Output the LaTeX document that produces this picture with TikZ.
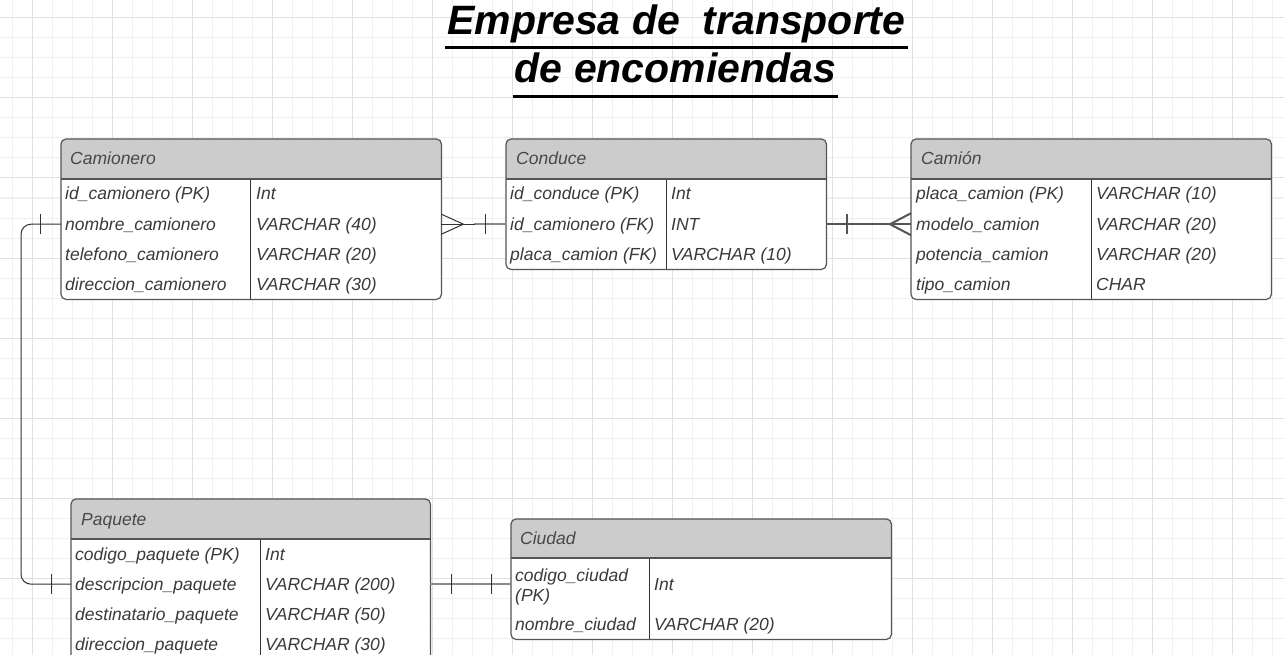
\documentclass[tikz,border=0pt]{standalone}
\usepackage{fontspec}
\setmainfont{Liberation Sans}
\definecolor{gridminor}{HTML}{F0F0F0}
\definecolor{gridmajor}{HTML}{E0E0E0}
\definecolor{hdrc}{HTML}{CCCCCC}
\definecolor{bordc}{HTML}{555555}
\definecolor{txtc}{HTML}{3A3A3A}
\definecolor{hdrtxt}{HTML}{484848}
\definecolor{linkdark}{HTML}{333333}
\definecolor{linkmid}{HTML}{555555}
\definecolor{linkgray}{HTML}{8A8A8A}
\tikzset{
  tblfill/.style={fill=white, rounded corners=5pt, inner sep=0pt, anchor=north west},
  tblborder/.style={draw=bordc, line width=1.2pt, rounded corners=5pt},
  hdrline/.style={draw=bordc, line width=1.2pt},
  divline/.style={draw=linkdark, line width=0.9pt},
  rowbox/.style={inner sep=0pt, anchor=north west, minimum height=30pt},
  cell/.style={inner sep=0pt, anchor=base west, text=txtc, font=\fontsize{17.5}{20}\selectfont\itshape},
  hdr/.style={inner sep=0pt, anchor=base west, text=hdrtxt, font=\fontsize{17.5}{20}\selectfont\itshape},
  ttl/.style={inner sep=0pt, anchor=base, text=black, font=\fontsize{41}{48}\selectfont\bfseries\itshape},
  lnkthin/.style={draw=linkdark, line width=1pt},
  lnkgray/.style={draw=linkgray, line width=2pt},
  lnkmid/.style={draw=linkmid, line width=2pt},
}
\begin{document}
\begin{tikzpicture}[x=1pt,y=-1pt]
\useasboundingbox (0,0) rectangle (1284,655);
\clip (0,0) rectangle (1284,655);
\fill[white] (0,0) rectangle (1284,655);
% grid
\foreach \x in {12,32,...,1284} \draw[gridminor, line width=1pt] (\x,0) -- (\x,655);
\foreach \y in {18,38,...,655} \draw[gridminor, line width=1pt] (0,\y) -- (1284,\y);
\foreach \x in {32,112,...,1284} \draw[gridmajor, line width=1pt] (\x,0) -- (\x,655);
\foreach \y in {18,98,...,655} \draw[gridmajor, line width=1pt] (0,\y) -- (1284,\y);

% title
\node[ttl] (title1) at (676.5,35) {Empresa de\ \ transporte};
\node[ttl] (title2) at (675.5,83) {de encomiendas};
\draw[line width=3pt] ([xshift=-2pt,yshift=-13pt]title1.base west) -- ([xshift=2pt,yshift=-13pt]title1.base east);
\draw[line width=3pt] ([xshift=-2pt,yshift=-14pt]title2.base west) -- ([xshift=2pt,yshift=-14pt]title2.base east);

% ---------- Camionero ----------
\node[tblfill, minimum width=380pt, minimum height=160pt] (camionero) at (61,139) {};
\fill[hdrc] (61,179) {[rounded corners=5pt] -- (61,139) -- (441,139)} -- (441,179) -- cycle;
\draw[divline] (250,179) -- (250,299);
\draw[hdrline] (61,179) -- (441,179);
\draw[tblborder] (camionero.north west) rectangle (camionero.south east);
\node[hdr] (camionerot) at (70,165) {Camionero};
\node[rowbox, minimum width=380pt] (cam1) at (61,179) {};
\node[rowbox, minimum width=380pt] (cam2) at (61,209) {};
\node[rowbox, minimum width=380pt] (cam3) at (61,239) {};
\node[rowbox, minimum width=380pt] (cam4) at (61,269) {};
\node[cell] (cam1a) at (65,200) {id\_camionero (PK)};
\node[cell] (cam1b) at (256,200) {Int};
\node[cell] (cam2a) at (65,230) {nombre\_camionero};
\node[cell] (cam2b) at (256,230) {VARCHAR (40)};
\node[cell] (cam3a) at (65,260) {telefono\_camionero};
\node[cell] (cam3b) at (256,260) {VARCHAR (20)};
\node[cell] (cam4a) at (65,290) {direccion\_camionero};
\node[cell] (cam4b) at (256,290) {VARCHAR (30)};

% ---------- Conduce ----------
\node[tblfill, minimum width=320pt, minimum height=130pt] (conduce) at (506,139) {};
\fill[hdrc] (506,179) {[rounded corners=5pt] -- (506,139) -- (826,139)} -- (826,179) -- cycle;
\draw[divline] (666,179) -- (666,269);
\draw[hdrline] (506,179) -- (826,179);
\draw[tblborder] (conduce.north west) rectangle (conduce.south east);
\node[hdr] (conducet) at (516,165) {Conduce};
\node[rowbox, minimum width=320pt] (con1) at (506,179) {};
\node[rowbox, minimum width=320pt] (con2) at (506,209) {};
\node[rowbox, minimum width=320pt] (con3) at (506,239) {};
\node[cell] (con1a) at (510,200) {id\_conduce (PK)};
\node[cell] (con1b) at (671,200) {Int};
\node[cell] (con2a) at (510,230) {id\_camionero (FK)};
\node[cell] (con2b) at (671,230) {INT};
\node[cell] (con3a) at (510,260) {placa\_camion (FK)};
\node[cell] (con3b) at (671,260) {VARCHAR (10)};

% ---------- Camion ----------
\node[tblfill, minimum width=360pt, minimum height=160pt] (camion) at (911,139) {};
\fill[hdrc] (911,179) {[rounded corners=5pt] -- (911,139) -- (1271,139)} -- (1271,179) -- cycle;
\draw[divline] (1091,179) -- (1091,299);
\draw[hdrline] (911,179) -- (1271,179);
\draw[tblborder] (camion.north west) rectangle (camion.south east);
\node[hdr] (camiont) at (921,165) {Camión};
\node[rowbox, minimum width=360pt] (cmn1) at (911,179) {};
\node[rowbox, minimum width=360pt] (cmn2) at (911,209) {};
\node[rowbox, minimum width=360pt] (cmn3) at (911,239) {};
\node[rowbox, minimum width=360pt] (cmn4) at (911,269) {};
\node[cell] (cmn1a) at (916,200) {placa\_camion (PK)};
\node[cell] (cmn1b) at (1096,200) {VARCHAR (10)};
\node[cell] (cmn2a) at (916,230) {modelo\_camion};
\node[cell] (cmn2b) at (1096,230) {VARCHAR (20)};
\node[cell] (cmn3a) at (916,260) {potencia\_camion};
\node[cell] (cmn3b) at (1096,260) {VARCHAR (20)};
\node[cell] (cmn4a) at (916,290) {tipo\_camion};
\node[cell] (cmn4b) at (1096,290) {CHAR};

% ---------- Paquete ----------
\node[tblfill, minimum width=359pt, minimum height=162pt] (paquete) at (71,499) {};
\fill[hdrc] (71,539) {[rounded corners=5pt] -- (71,499) -- (430,499)} -- (430,539) -- cycle;
\draw[divline] (260,539) -- (260,661);
\draw[hdrline] (71,539) -- (430,539);
\draw[tblborder] (paquete.north west) rectangle (paquete.south east);
\node[hdr] (paquetet) at (81,525) {Paquete};
\node[rowbox, minimum width=359pt] (paq1) at (71,539) {};
\node[rowbox, minimum width=359pt] (paq2) at (71,569) {};
\node[rowbox, minimum width=359pt] (paq3) at (71,599) {};
\node[rowbox, minimum width=359pt] (paq4) at (71,629) {};
\node[cell] (paq1a) at (75,560) {codigo\_paquete (PK)};
\node[cell] (paq1b) at (265,560) {Int};
\node[cell] (paq2a) at (75,590) {descripcion\_paquete};
\node[cell] (paq2b) at (265,590) {VARCHAR (200)};
\node[cell] (paq3a) at (75,620) {destinatario\_paquete};
\node[cell] (paq3b) at (265,620) {VARCHAR (50)};
\node[cell] (paq4a) at (75,650) {direccion\_paquete};
\node[cell] (paq4b) at (265,650) {VARCHAR (30)};

% ---------- Ciudad ----------
\node[tblfill, minimum width=380pt, minimum height=120pt] (ciudad) at (511,519) {};
\fill[hdrc] (511,558) {[rounded corners=5pt] -- (511,519) -- (891,519)} -- (891,558) -- cycle;
\draw[divline] (649,558) -- (649,639);
\draw[hdrline] (511,558) -- (891,558);
\draw[tblborder] (ciudad.north west) rectangle (ciudad.south east);
\node[hdr] (ciudadt) at (520,544) {Ciudad};
\node[rowbox, minimum width=380pt, minimum height=51pt] (ciu1) at (511,558) {};
\node[rowbox, minimum width=380pt] (ciu2) at (511,609) {};
\node[cell] (ciu1a) at (515,581) {codigo\_ciudad};
\node[cell] (ciu1c) at (515,601) {(PK)};
\node[cell] (ciu1b) at (654,590) {Int};
\node[cell] (ciu2a) at (515,630) {nombre\_ciudad};
\node[cell] (ciu2b) at (654,630) {VARCHAR (20)};

% ---------- connectors ----------
% Camionero -- Conduce
\draw[lnkgray] ([xshift=33pt]cam2.east) -- (con2.west);
\draw[lnkthin] (cam2.east) -- ([xshift=34pt]cam2.east);
\draw[lnkthin] ([yshift=10pt]cam2.east) -- ([xshift=22pt]cam2.east) -- ([yshift=-10pt]cam2.east);
\draw[lnkthin] ([xshift=-21pt,yshift=10pt]con2.west) -- ([xshift=-21pt,yshift=-10pt]con2.west);
% Conduce -- Camion
\draw[lnkmid] (con2.east) -- (cmn2.west);
\draw[lnkmid] ([xshift=21pt,yshift=10pt]con2.east) -- ([xshift=21pt,yshift=-10pt]con2.east);
\draw[lnkmid] ([yshift=11pt]cmn2.west) -- ([xshift=-21pt]cmn2.west) -- ([yshift=-11pt]cmn2.west);
% Camionero -- Paquete
\draw[lnkthin, rounded corners=10pt] (cam2.west) -- ++(-40,0) |- (paq2.west);
\draw[lnkthin] ([xshift=-21pt,yshift=10pt]cam2.west) -- ([xshift=-21pt,yshift=-10pt]cam2.west);
\draw[lnkthin] ([xshift=-20pt,yshift=10pt]paq2.west) -- ([xshift=-20pt,yshift=-10pt]paq2.west);
% Paquete -- Ciudad
\draw[lnkgray] (paq2.east) -- (paq2.east -| ciu1.west);
\draw[lnkthin] ([xshift=21pt,yshift=10pt]paq2.east) -- ([xshift=21pt,yshift=-10pt]paq2.east);
\draw[lnkthin] ([xshift=-20pt,yshift=10pt]ciu1.west) -- ([xshift=-20pt,yshift=-10pt]ciu1.west);
\end{tikzpicture}
\end{document}
